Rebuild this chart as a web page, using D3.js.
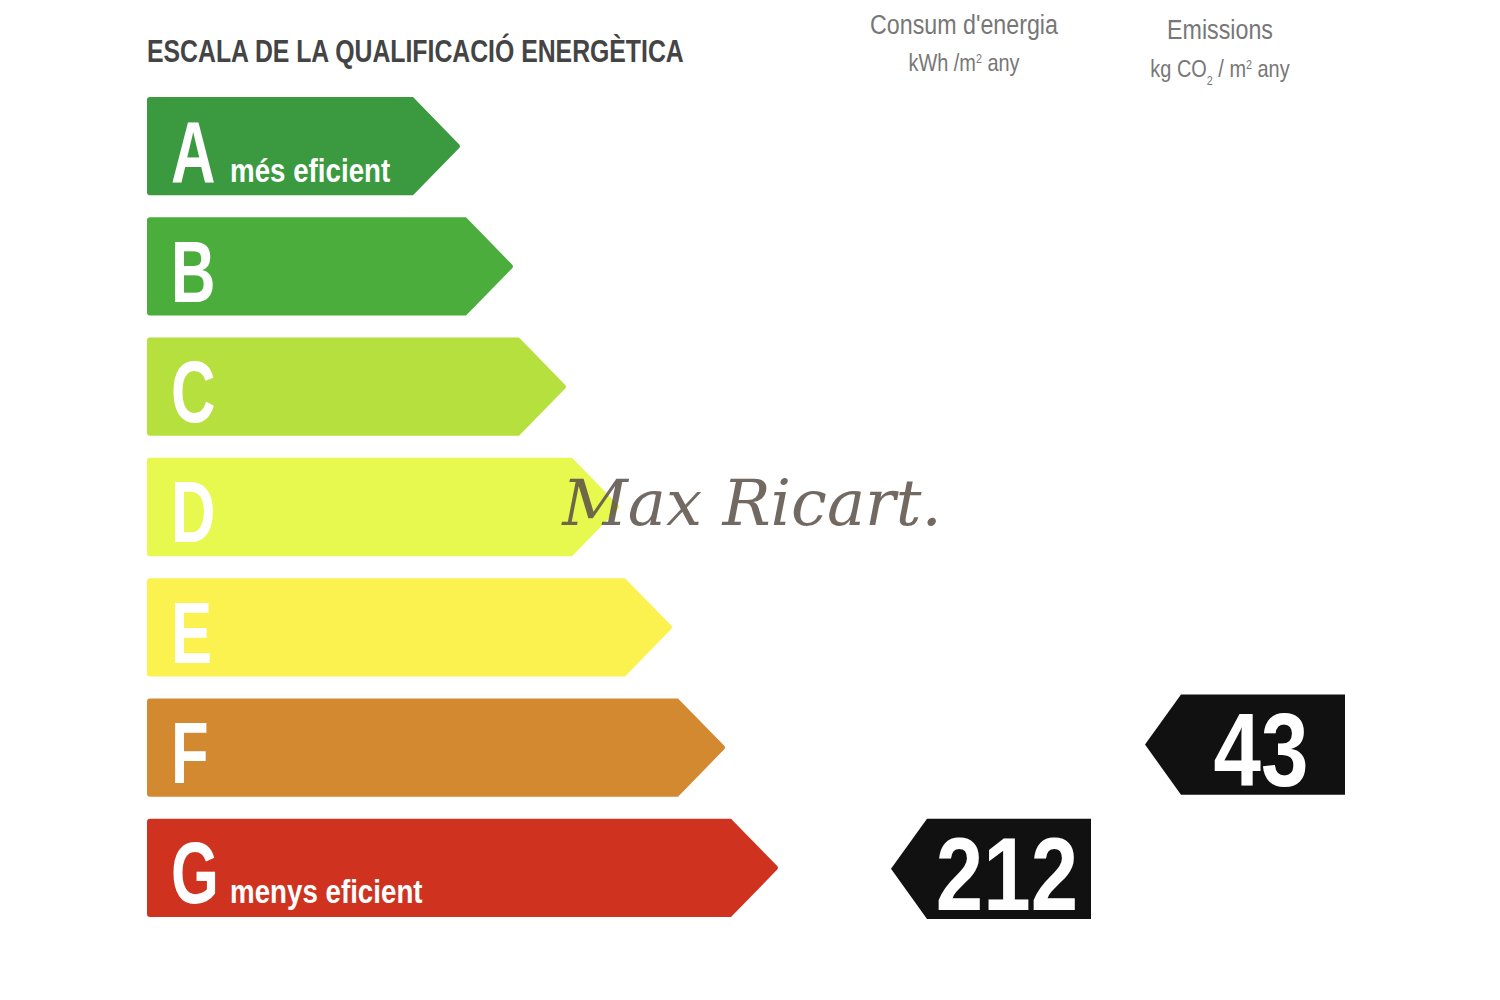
<!DOCTYPE html>
<html><head><meta charset="utf-8">
<script src="https://cdn.jsdelivr.net/npm/d3@7"></script>
<style>body{margin:0;background:#fff}</style>
</head><body>
<script>
// data
var grades = ["A","B","C","D","E","F","G"];
var lengths = [1,2,3,4,5,6,7];           // relative arrow length per grade
var colors = ["#3b9a3f","#4bae3c","#b6e03d","#e7f84e","#fbf24f","#d2892f","#cf3320"];
var notes = {A:"més eficient", G:"menys eficient"};
var consum = {grade:"G", value:212, dy:0};
var emissions = {grade:"F", value:43, dy:-4};

var w = 1500, h = 1000;
var font = "Liberation Sans, Arial, sans-serif";
var svg = d3.select("body").append("svg").attr("width",w).attr("height",h);

var y = d3.scaleBand().domain(grades).range([97,917]).paddingInner(0.183).paddingOuter(0);
var x = d3.scaleLinear().domain([0,7]).range([408,779]);
var left = 147, tip = 48;

// condensed text: scale horizontally around the anchor point
function ctext(parent, px, py, sx){
  return parent.append("g").attr("transform","translate("+px+","+py+") scale("+sx+",1)")
    .append("text").attr("font-family",font);
}

function arrowPath(d,i){
  var x1 = x(lengths[i]), y0 = y(d), bh = y.bandwidth();
  return "M"+left+","+(y0+3)+"Q"+left+","+y0+" "+(left+3)+","+y0+
    "L"+(x1-tip)+","+y0+"L"+(x1-2)+","+(y0+bh/2-2)+"Q"+x1+","+(y0+bh/2)+" "+(x1-2)+","+(y0+bh/2+2)+
    "L"+(x1-tip)+","+(y0+bh)+"L"+(left+3)+","+(y0+bh)+"Q"+left+","+(y0+bh)+" "+left+","+(y0+bh-3)+"Z";
}

svg.selectAll("path.arrow").data(grades).enter().append("path").attr("class","arrow")
  .attr("d",arrowPath).attr("fill",function(d,i){return colors[i];});
grades.forEach(function(d){
  ctext(svg, 171, y(d)+y.bandwidth()*0.86, 0.7).attr("font-weight","bold").attr("font-size",88)
    .attr("fill","#fff").text(d);
  if(notes[d]) ctext(svg, 230, y(d)+y.bandwidth()*0.86, 0.84).attr("font-weight","bold")
    .attr("font-size",33).attr("fill","#fff").text(notes[d]);
});

// title
ctext(svg,147,62,0.8).attr("font-weight","bold").attr("font-size",31).attr("fill","#444")
  .text("ESCALA DE LA QUALIFICACIÓ ENERGÈTICA");

// column headers
function header(cx, y1, l1, y2, parts){
  ctext(svg,cx,y1,0.83).attr("text-anchor","middle").attr("font-size",28).attr("fill","#777").text(l1);
  var t = ctext(svg,cx,y2,0.83).attr("text-anchor","middle").attr("font-size",24).attr("fill","#777");
  parts.forEach(function(p){
    t.append("tspan").attr("baseline-shift",p[1]).attr("font-size",p[1]?13:24).text(p[0]);
  });
}
header(964,34,"Consum d'energia",71,[["kWh /m",null],["2","super"],["  any",null]]);
header(1220,39,"Emissions",77,[["kg CO",null],["2","sub"],["  / m",null],["2","super"],["  any",null]]);

// value badges
function badge(x0, rec){
  var y0 = y(rec.grade)+rec.dy, bh = y.bandwidth()+2, bw = 200, d = 36;
  svg.append("path").attr("fill","#111")
    .attr("d","M"+x0+","+(y0+bh/2)+"L"+(x0+d)+","+y0+"L"+(x0+bw)+","+y0+"L"+(x0+bw)+","+(y0+bh)+"L"+(x0+d)+","+(y0+bh)+"Z");
  ctext(svg, x0+d+(bw-d)/2-2, y0+bh*0.91, 0.82).attr("text-anchor","middle").attr("font-weight","bold")
    .attr("font-size",104).attr("fill","#fff").text(rec.value);
}
badge(891, consum);
badge(1145, emissions);

// watermark
svg.append("text").attr("x",752).attr("y",525).attr("text-anchor","middle")
  .attr("font-family","DejaVu Serif, serif").attr("font-style","italic").attr("font-size",64)
  .attr("fill","#5a5048").attr("opacity",0.85).text("Max Ricart.");
</script>
</body></html>
